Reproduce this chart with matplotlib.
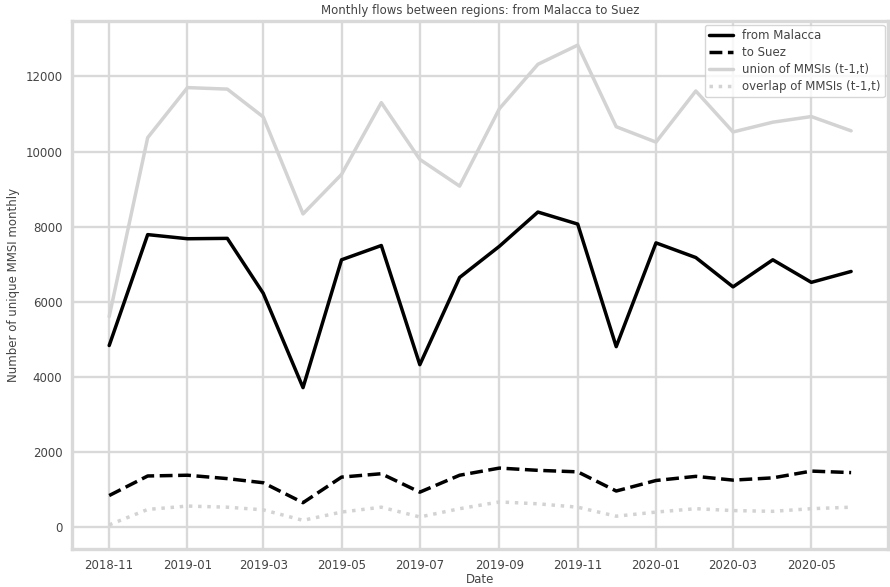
import pandas as pd
import matplotlib
matplotlib.use("Agg")
import matplotlib.pyplot as plt
import matplotlib.dates as mdates
import seaborn as sns

# monthly values
months = pd.date_range("2018-11-01", "2020-06-01", freq="MS")
from_malacca = [4840, 7790, 7680, 7690, 6230, 3720, 7120, 7500, 4330, 6650,
                7480, 8390, 8070, 4810, 7570, 7180, 6400, 7120, 6520, 6810]
to_suez = [850, 1370, 1390, 1300, 1190, 660, 1340, 1430, 940, 1390,
           1580, 1520, 1480, 970, 1250, 1360, 1260, 1320, 1500, 1460]
union_mmsi = [5610, 10370, 11700, 11660, 10920, 8340, 9390, 11300, 9790, 9080,
              11140, 12320, 12830, 10660, 10250, 11610, 10520, 10780, 10930, 10550]
overlap_mmsi = [70, 480, 570, 540, 470, 190, 410, 540, 280, 500,
                680, 630, 540, 300, 410, 500, 450, 430, 500, 540]

sns.set_style("whitegrid")
plt.rcParams.update({
    "grid.color": "#d9d9d9",
    "grid.linewidth": 1.7,
    "axes.edgecolor": "#d9d9d9",
    "axes.linewidth": 2.4,
    "text.color": "#444444",
    "axes.labelcolor": "#444444",
    "xtick.color": "#444444",
    "ytick.color": "#444444",
})

fig = plt.figure(figsize=(8.9, 5.87), dpi=100)
ax = fig.add_axes([0.081, 0.065, 0.917, 0.899])

ax.plot(months, from_malacca, color="black", lw=2.5, label="from Malacca")
ax.plot(months, to_suez, color="black", lw=2.5, ls="--", label="to Suez")
ax.plot(months, union_mmsi, color="lightgray", lw=2.5, label="union of MMSIs (t-1,t)")
ax.plot(months, overlap_mmsi, color="lightgray", lw=2.5, ls=":", label="overlap of MMSIs (t-1,t)")

ax.xaxis.set_major_locator(mdates.MonthLocator(bymonth=[1, 3, 5, 7, 9, 11]))
ax.xaxis.set_major_formatter(mdates.DateFormatter("%Y-%m"))
ax.tick_params(labelsize=8.5, length=0, pad=7)

ax.set_title("Monthly flows between regions: from Malacca to Suez", fontsize=8.5, pad=5)
ax.set_xlabel("Date", fontsize=8.5, labelpad=1)
ax.set_ylabel("Number of unique MMSI monthly", fontsize=8.5)
ax.legend(loc="upper right", fontsize=8.5, handlelength=2.0, borderaxespad=0.3,
          labelspacing=0.35, borderpad=0.35)

fig.savefig("out.png", dpi=100)
